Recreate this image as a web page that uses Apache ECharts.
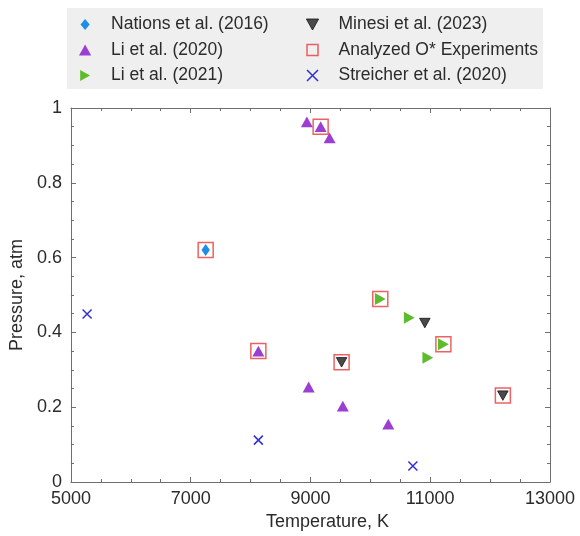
<!DOCTYPE html>
<html>
<head>
<meta charset="utf-8">
<script src="https://cdn.jsdelivr.net/npm/echarts@6/dist/echarts.min.js"></script>
<style>
html,body{margin:0;padding:0;background:#fff;}
#c{width:580px;height:536px;}
</style>
</head>
<body>
<div id="c"></div>
<script>
const seriesNames = ['Nations et al. (2016)', 'Li et al. (2020)', 'Li et al. (2021)',
  'Minesi et al. (2023)', 'Analyzed O* Experiments', 'Streicher et al. (2020)'];
const nations = [[7250, 0.62]];
const li2020 = [[8130, 0.35], [8940, 0.963], [9170, 0.95], [9320, 0.92], [8970, 0.254], [9540, 0.203], [10300, 0.155]];
const li2021 = [[10166, 0.489], [10650, 0.439], [11220, 0.368], [10960, 0.332]];
const minesi = [[9520, 0.32], [10910, 0.425], [12213, 0.231]];
const analyzed = [[7250, 0.62], [8130, 0.35], [9170, 0.95], [9520, 0.32], [10166, 0.489], [11220, 0.368], [12213, 0.231]];
const streicher = [[5270, 0.449], [8130, 0.112], [10710, 0.043]];
const xTicks = { min: 5000, max: 13000, interval: 2000 };
const yTicks = { min: 0, max: 1, interval: 0.2 };

const FONT = '"Liberation Sans", Arial, sans-serif';
const axisCol = '#6e6e6e';
const txtCol = '#2b2b2b';

const SYM = {
  diamond: 'path://M5,0L10,6L5,12L0,6Z',
  up: 'path://M5,0L10,9L0,9Z',
  right: 'path://M0,0L9,5L0,10Z',
  down: 'path://M0,0L10,0L5,9Z',
  square: 'path://M0,0L10,0L10,10L0,10Z',
  cross: 'path://M0,0L10,10M10,0L0,10'
};

function baseAxis(isX, pos, showLabel) {
  const t = isX ? xTicks : yTicks;
  return {
    type: 'value', position: pos, min: t.min, max: t.max, interval: t.interval,
    axisLine: { show: true, onZero: false, lineStyle: { color: axisCol, width: 1 } },
    axisTick: { show: true, inside: true, length: 5, lineStyle: { color: axisCol } },
    minorTick: { show: true, splitNumber: 4, length: 3, lineStyle: { color: axisCol } },
    splitLine: { show: false },
    axisLabel: { show: showLabel, color: txtCol, fontSize: 18, fontFamily: FONT, margin: 8,
      formatter: v => String(+v.toFixed(1)) },
    name: '', nameLocation: 'middle'
  };
}

const xMain = baseAxis(true, 'bottom', true);
xMain.name = 'Temperature, K';
xMain.nameGap = 30;
xMain.nameTextStyle = { color: txtCol, fontSize: 18, fontFamily: FONT, padding: [0, 0, 0, 34] };
const xTop = baseAxis(true, 'top', false);
const yMain = baseAxis(false, 'left', true);
yMain.axisLabel.margin = 9;
yMain.name = 'Pressure, atm';
yMain.nameGap = 34;
yMain.nameTextStyle = { color: txtCol, fontSize: 18, fontFamily: FONT };
const yRight = baseAxis(false, 'right', false);

const legendCommon = {
  orient: 'vertical', top: 15.5, itemWidth: 42, itemHeight: 11, itemGap: 7.5,
  textStyle: { color: txtCol, fontSize: 17.5, fontFamily: FONT, lineHeight: 17 },
  backgroundColor: 'transparent', padding: 0, selectedMode: false
};

const chart = echarts.init(document.getElementById('c'), null, { renderer: 'canvas' });
chart.setOption({
  animation: false,
  backgroundColor: '#fff',
  graphic: [{
    type: 'rect', left: 67, top: 8, z: -10,
    shape: { width: 476, height: 81 },
    style: { fill: '#efefef' }
  }],
  legend: [
    Object.assign({ left: 79, data: seriesNames.slice(0, 3) }, legendCommon),
    Object.assign({ left: 306, data: [
      { name: seriesNames[3], itemStyle: { borderWidth: 0.8 } },
      { name: seriesNames[4], itemStyle: { borderWidth: 1.5 } },
      { name: seriesNames[5], itemStyle: { borderWidth: 1.5 } }
    ] }, legendCommon)
  ],
  grid: { left: 67, right: 30, top: 108, bottom: 54, containLabel: false },
  xAxis: [xMain, xTop],
  yAxis: [yMain, yRight],
  series: [
    { name: seriesNames[4], type: 'scatter', data: analyzed, symbol: SYM.square, symbolSize: 15, symbolKeepAspect: true,
      itemStyle: { color: 'rgba(255,255,255,0)', borderColor: '#e8393b', borderWidth: 1.5 }, z: 2 },
    { name: seriesNames[0], type: 'scatter', data: nations, symbol: SYM.diamond, symbolSize: [10, 12], symbolKeepAspect: true,
      itemStyle: { color: '#1c8ee6', opacity: 1 }, z: 3 },
    { name: seriesNames[1], type: 'scatter', data: li2020, symbol: SYM.up, symbolSize: 12, symbolKeepAspect: true,
      itemStyle: { color: '#9b3fd3', opacity: 1 }, z: 3 },
    { name: seriesNames[2], type: 'scatter', data: li2021, symbol: SYM.right, symbolSize: 12, symbolKeepAspect: true,
      itemStyle: { color: '#5cbc2b', opacity: 1 }, z: 3 },
    { name: seriesNames[3], type: 'scatter', data: minesi, symbol: SYM.down, symbolSize: 10.5, symbolKeepAspect: true,
      itemStyle: { color: '#4a4a4a', borderColor: '#111', borderWidth: 0.8, opacity: 1 }, z: 3 },
    { name: seriesNames[5], type: 'scatter', data: streicher, symbol: SYM.cross, symbolSize: 9, symbolKeepAspect: true,
      itemStyle: { color: '#2f2fd6', borderColor: '#2f2fd6', borderWidth: 1.5, opacity: 1 }, z: 3 }
  ]
});
</script>
</body>
</html>
